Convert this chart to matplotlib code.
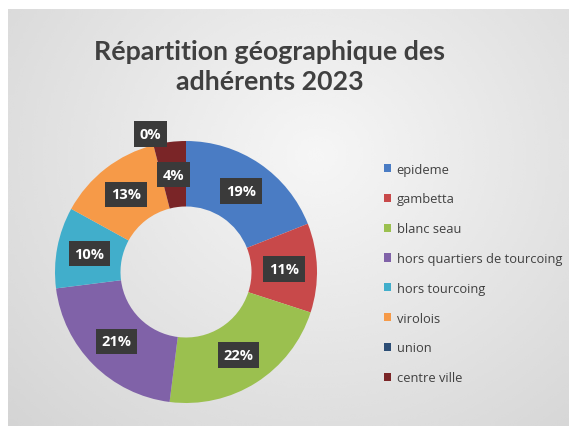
import matplotlib.pyplot as plt
import numpy as np

# data
quartiers = ['epideme', 'gambetta', 'blanc seau', 'hors quartiers de tourcoing',
             'hors tourcoing', 'virolois', 'union', 'centre ville']
pourcentages = [19, 11, 22, 21, 10, 13, 0, 4]
couleurs = ['#4a7cc4', '#c8494a', '#9bc04f', '#8062a8',
            '#41aecb', '#f69a48', '#2c4d75', '#7a2527']

W, H = 569, 427
fig = plt.figure(figsize=(W / 100, H / 100), dpi=100)
fig.patch.set_facecolor('white')

# grey gradient background (chart area)
bg = fig.add_axes([8 / W, 0, 1 - 8 / W, 1 - 10 / H])
yy, xx = np.mgrid[0:1:200j, 0:1:200j]
d = np.sqrt(((xx - 0.55) / 0.75) ** 2 + ((yy - 0.35) / 0.9) ** 2)
grad = 0.965 - 0.13 * np.clip(d, 0, 1.2)
bg.imshow(grad, cmap='gray', vmin=0, vmax=1, extent=[0, 1, 0, 1],
          aspect='auto', origin='upper', interpolation='bicubic')
bg.axis('off')

fig.text(270 / W, 1 - 67 / H, 'Répartition géographique des\nadhérents 2023',
         ha='center', va='center', fontsize=19.3, fontweight='bold',
         color='#404040', family='Lato', linespacing=1.28)

# donut
cx, cy, r = 186, 273, 131
ax = fig.add_axes([(cx - r) / W, (H - cy - r) / H, 2 * r / W, 2 * r / H])
wedges, _ = ax.pie(pourcentages, colors=couleurs, startangle=90,
                   counterclock=False, radius=1,
                   wedgeprops=dict(width=0.5, edgecolor='none'))
ax.set_xlim(-1, 1)
ax.set_ylim(-1, 1)
ax.set_aspect('equal')
ax.axis('off')

for w, p in zip(wedges, pourcentages):
    ang = np.deg2rad((w.theta1 + w.theta2) / 2)
    rad = 0.75
    if p == 0:
        # Excel pushed the empty slice label outwards
        rad = 1.085
    ax.text(rad * np.cos(ang), rad * np.sin(ang), f'{p}%',
            ha='center', va='center', color='white', fontsize=10.5,
            fontweight='bold', family='Open Sans',
            bbox=dict(boxstyle='square,pad=0.4', fc='#3a3a3a', ec='none'))

fig.legend(wedges, quartiers, loc='upper left',
           bbox_to_anchor=(372 / W, 1 - 152 / H), frameon=False,
           labelcolor='#404040', handlelength=0.6,
           handleheight=0.6, handletextpad=0.4, labelspacing=1.3,
           prop={'family': 'Open Sans', 'size': 9.3})

fig.savefig('out.png', dpi=100)
